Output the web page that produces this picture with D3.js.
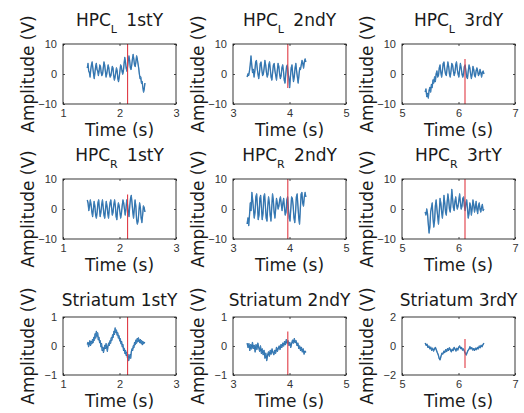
<!DOCTYPE html>
<html>
<head>
<meta charset="utf-8">
<script src="https://cdn.jsdelivr.net/npm/d3@7"></script>
<style>
  html, body { margin: 0; padding: 0; background: #fff; }
  svg { display: block; }
  .tick text { font-family: "Liberation Sans", Arial, sans-serif; font-size: 11px; fill: #333; }
  .tick line { stroke: #222; stroke-width: 0.8; }
  .lbl { font-family: "DejaVu Sans", sans-serif; font-size: 17px; fill: #1a1a1a; }
</style>
</head>
<body>
<div id="chart"></div>
<script>
// panel titles
var regions = ["HPC", "HPC", "Striatum"];
var subs = ["L", "R", ""];
var years = [["1stY", "2ndY", "3rdY"], ["1stY", "2ndY", "3rtY"], ["1stY", "2ndY", "3rdY"]];

// axes
var xDomains = [[1, 3], [3, 5], [5, 7]];
var xTicks = [[1, 2, 3], [3, 4, 5], [5, 6, 7]];
var yDomains = [[[-10, 10], [-10, 10], [-10, 10]], [[-10, 10], [-10, 10], [-10, 10]], [[-1, 1], [-1, 1], [-2, 2]]];
var yTicks = [[[-10, 0, 10], [-10, 0, 10], [-10, 0, 10]], [[-10, 0, 10], [-10, 0, 10], [-10, 0, 10]], [[-1, 0, 1], [-1, 0, 1], [-2, 0, 2]]];

// signal window (s) for each column
var windowStart = [1.43, 3.25, 5.41];
var windowEnd = [2.45, 4.29, 6.45];

// red marker time and its vertical extent
var markerT = [2.143, 3.97, 6.115];
var markerRange = [
  [[-10, 10], [-4.7, 10], [-10, 5]],
  [[-10, 4.8], [-10, 10], [-10, 10]],
  [[-1, 1], [-1, 0.5], [-1.52, 0.48]]
];

// traces (V)
var hpcL1 = [2,3.5,1,0.5,-1,1.5, 3,4,2,0,-1.5,0.5, 2.5,3.5,1.5,1,-0.5,1, 3,2.5,0.5,-0.5,0,2, 4,3,1,-1,0,1.5,
  3,2,0,-1,-0.5,1, 2.5,2,-0.5,-2,-1,0.5, 2,1,-1.5,-2.5,-1,1, 3,2.5,1,0,1,3.5, 5.5,4,2,1,2.5,4.5,
  6,4.5,2,1.5,3,5, 6.5,5,3,2.5,4,6, 5,3.5,2,0,-1.5,-1, -3,-2.5,-4.5,-6,-5,-3];
var hpcL2 = [-1,0,-0.5,1,3,6, 3,0.5,1.5,-1,1,4, 4.5,2,0,-1.5,0.5,3.5, 4,1.5,-0.5,0,2,4.5, 3,0.5,-1,0,3,4,
  1.5,-1,-2,0.5,3,3.5, 1,-0.5,-2,1,3.5,2.5, 0,-1.5,-0.5,2,3,1, -2,-3,0,2.5,3,0.5, -1.5,-4.5,-1,2,3,0,
  -2.5,-1,2,3.5,1,-1, -3,-0.5,2,1.5,3,4.5, 3.5,2,4,5,4];
var hpcL3 = [-6,-5,-7.5,-6.5,-8,-5.5, -4.5,-6,-3.5,-4.5,-2,-3, -1,-2.5,0,1,-1,-0.5, 2,3,0.5,-1,1,3.5, 4,1.5,0,-0.5,2,4,
  2.5,0,-1,1,3.5,3, 1,-0.5,0.5,3,4,1.5, 0,-1,1.5,3.5,2,0, -1,0,2.5,3,1,-1, -1.5,1,3,2,0,-1.5,
  0,2.5,1.5,-0.5,-1,1, 2,1,-0.5,0,1.5,0.5, -1,0.5,1,0];
var hpcR1 = [3,2,-0.5,1,3,1.5, -1,-2.5,0,2.5,1,-2, -3,-1,2,3,0,-2.5, -1,1.5,3,0.5,-2,-3, 0,2.5,1,-1.5,-3,0,
  2,3,0.5,-2,-1,1.5, 3,1,-2.5,-3.5,0,2, 1,-1,-3,-1.5,1,3, 2,0,-2,0,3,1.5, -1,-2.5,1,3.5,4.5,2,
  -1,-3,0,3,1,-3.5, -5,-4,-1,2,0.5,-3, -4.5,-2,1,0.5,-1];
var hpcR2 = [-5,-3,-5.5,-2,2,-0.5, 5.5,3,0,-3,-1,4, 5,1,-3.5,-2,3.5,4.5, 0.5,-3.5,-1.5,4,5,1, -3,-4,1,4,2,-2,
  -4,0.5,5,3,-1,-3, 0,3.5,2,0,1,3, 4,1.5,-0.5,2,3.5,0.5, -2,-1,3,4,0,-3, -4,0,4,3.5,1,-3,
  -4.5,-1,4,5,1,-3, -5,0,5,5.5,2,1, 4,5.5,4];
var hpcR3 = [-1,-2,0,-1.5,-5,-8, -6,-1,0.5,2,-3,-6, -4,1,3,0,-2.5,-5, -1,3.5,2,-1,-3,0, 4.5,2,-1,-2,2,5,
  3,0,-1,2,6.5,3.5, 0.5,-0.5,2.5,4,1.5,0, 1,3,5,2,0,1, 3.5,4,1,-0.5,2,3, 0,-3,-1.5,2,1,-2,
  0,3,1.5,-1,0.5,2.5, 0,-1.5,1,2,0,-1, 0.5,1.5,-0.5,0];
var str1 = [0.05,0.12,-0.02,0.1,0.18,0.02,0.15,0.08,0.22,0.12, 0.3,0.2,0.42,0.28,0.5,0.35,0.45,0.22,0.3,0.12,
  0.18,-0.02,0.08,-0.15,-0.05,-0.22,-0.1,0.02,-0.08,0.08, -0.05,-0.18,0.0,0.1,0.02,0.18,0.1,0.28,0.2,0.38,
  0.3,0.5,0.4,0.62,0.48,0.55,0.38,0.45,0.28,0.35, 0.18,0.25,0.08,0.15,-0.02,0.05,-0.15,-0.08,-0.25,-0.15,
  -0.32,-0.22,-0.4,-0.3,-0.5,-0.38,-0.3,-0.42,-0.2,-0.1, -0.15,0.0,-0.05,0.12,0.05,0.2,0.1,0.25,0.15,0.28,
  0.18,0.12,0.22,0.1,0.18,0.05,0.15,0.08,0.12,0.1];
var str2 = [0.1,-0.05,0.08,-0.15,0.05,-0.1,0.12,-0.08,0.02,-0.2, 0.05,-0.12,0.1,-0.05,-0.18,0.0,-0.25,-0.1,-0.3,-0.15,
  -0.42,-0.25,-0.5,-0.32,-0.2,-0.35,-0.15,-0.28,-0.1,-0.22, -0.3,-0.15,-0.25,-0.05,-0.18,-0.08,0.0,-0.12,0.05,-0.05,
  0.1,0.0,0.15,0.05,0.22,0.1,0.18,0.02,0.12,-0.05, 0.08,0.2,0.1,0.25,0.12,0.18,0.02,0.1,-0.08,0.0,
  -0.15,-0.05,-0.2,-0.1,-0.28,-0.18,-0.22];
var str3 = [0.2,0.05,0.12,-0.1,0.0,-0.2,-0.08,-0.3,-0.15,-0.35, -0.2,-0.1,-0.28,-0.45,-0.6,-0.85,-0.95,-0.7,-0.5,-0.55,
  -0.35,-0.45,-0.25,-0.38,-0.18,-0.3,-0.12,-0.25,-0.4,-0.22, -0.32,-0.1,-0.2,-0.35,-0.15,-0.28,-0.08,0.0,-0.18,-0.1,
  -0.28,-0.2,-0.35,-0.5,-0.62,-0.45,-0.3,-0.22,-0.05,-0.2, -0.12,-0.28,-0.18,-0.3,-0.15,-0.25,-0.1,-0.2,0.0,-0.12,
  0.05,-0.05,0.1,0.2];
var traces = [[hpcL1, hpcL2, hpcL3], [hpcR1, hpcR2, hpcR3], [str1, str2, str3]];

var width = 524, height = 413;
var colLeft = [63, 233, 402],
  rowTop = [44, 179, 317],
  boxW = 113,
  boxH = [60, 60, 58];

var svg = d3.select("#chart").append("svg")
    .attr("width", width)
    .attr("height", height);

for (var r = 0; r < 3; r++) {
  for (var c = 0; c < 3; c++) {
    drawPanel(r, c);
  }
}

function drawPanel(r, c) {
  var w = boxW, h = boxH[r];
  var g = svg.append("g")
      .attr("transform", "translate(" + colLeft[c] + "," + rowTop[r] + ")");

  var x = d3.scaleLinear().domain(xDomains[c]).range([0, w]);
  var y = d3.scaleLinear().domain(yDomains[r][c]).range([h, 0]);

  var vals = traces[r][c];
  var t = d3.scaleLinear().domain([0, vals.length - 1]).range([windowStart[c], windowEnd[c]]);

  var line = d3.line()
    .x(function(d, i) { return x(t(i)); })
    .y(function(d) { return y(d); });

  g.append("path")
    .datum(vals)
    .attr("d", line)
    .style("fill", "none")
    .style("stroke", "#1d5c99")
    .style("stroke-width", 1.3)
    .style("stroke-linejoin", "round");

  g.append("path")
    .datum(vals)
    .attr("d", line)
    .style("fill", "none")
    .style("stroke", "#5aa5dc")
    .style("stroke-width", 0.5)
    .style("opacity", 0.8)
    .style("stroke-linejoin", "round");

  g.append("line")
    .attr("x1", x(markerT[c])).attr("x2", x(markerT[c]))
    .attr("y1", y(markerRange[r][c][0])).attr("y2", y(markerRange[r][c][1]))
    .style("stroke", "#e03a44")
    .style("stroke-width", 1.1);

  var fmt = function(d) { return d < 0 ? "\u2212" + Math.abs(d) : d; };

  g.append("g")
    .attr("transform", "translate(0," + h + ")")
    .call(d3.axisBottom(x).tickValues(xTicks[c]).tickFormat(fmt).tickSizeInner(-2).tickSizeOuter(0).tickPadding(5))
    .call(function(a) { a.select(".domain").remove(); });
  g.append("g")
    .call(d3.axisTop(x).tickValues(xTicks[c]).tickFormat("").tickSizeInner(-2).tickSizeOuter(0))
    .call(function(a) { a.select(".domain").remove(); });
  g.append("g")
    .call(d3.axisLeft(y).tickValues(yTicks[r][c]).tickFormat(fmt).tickSizeInner(-2).tickSizeOuter(0).tickPadding(6))
    .call(function(a) { a.select(".domain").remove(); });
  g.append("g")
    .attr("transform", "translate(" + w + ",0)")
    .call(d3.axisRight(y).tickValues(yTicks[r][c]).tickFormat("").tickSizeInner(-2).tickSizeOuter(0))
    .call(function(a) { a.select(".domain").remove(); });

  g.append("rect")
    .attr("width", w).attr("height", h)
    .style("fill", "none")
    .style("stroke", "#222")
    .style("stroke-width", 0.9);

  // x label
  g.append("text")
    .attr("class", "lbl")
    .attr("x", w / 2).attr("y", h + 32)
    .attr("text-anchor", "middle")
    .text("Time (s)");

  // y label
  g.append("text")
    .attr("class", "lbl")
    .attr("transform", "translate(-29," + (h / 2) + ") rotate(-90)")
    .attr("text-anchor", "middle")
    .text("Amplitude (V)");

  // title
  var title = g.append("text")
    .attr("class", "lbl")
    .attr("x", w / 2)
    .attr("y", subs[r] ? -18 : -11)
    .attr("text-anchor", "middle");
  if (subs[r]) {
    title.append("tspan").text(regions[r]);
    title.append("tspan").attr("dy", 7).style("font-size", "11px").text(subs[r]);
    title.append("tspan").attr("dy", -7).attr("dx", 4).text(" " + years[r][c]);
  } else {
    title.text(regions[r] + " " + years[r][c]);
  }
}
</script>
</body>
</html>
